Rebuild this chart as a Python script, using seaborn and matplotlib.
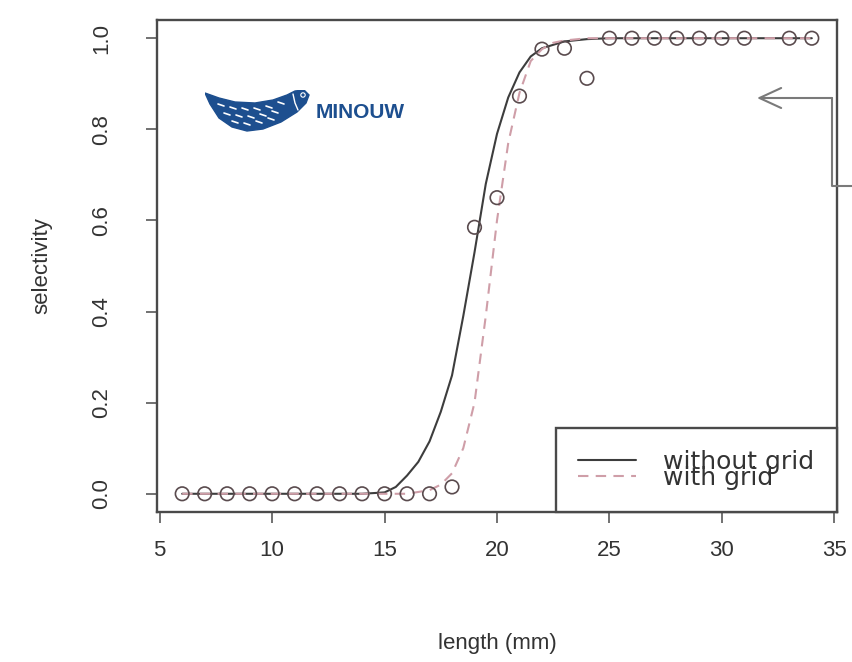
import numpy as np
import pandas as pd
import matplotlib
matplotlib.use("Agg")
import matplotlib.pyplot as plt
from matplotlib.lines import Line2D
from matplotlib.patches import Polygon
import seaborn as sns

# observed selectivity per length class
obs_length = [6, 7, 8, 9, 10, 11, 12, 13, 14, 15, 16, 17, 18, 19, 20, 21, 22, 23, 24,
              25, 26, 27, 28, 29, 30, 31, 33, 34]
obs_sel = [0.0, 0.0, 0.0, 0.0, 0.0, 0.0, 0.0, 0.0, 0.0, 0.0, 0.0, 0.0, 0.015, 0.585, 0.65,
           0.873, 0.976, 0.978, 0.912, 1.0, 1.0, 1.0, 1.0, 1.0, 1.0, 1.0, 1.0, 1.0]

# fitted curves
nogrid_length = [6, 10, 14, 15, 15.5, 16, 16.5, 17, 17.5, 18, 18.5, 19, 19.5, 20, 20.5,
                 21, 21.5, 22, 23, 24, 25, 34]
nogrid_sel = [0.0, 0.0, 0.0, 0.003, 0.015, 0.04, 0.07, 0.115, 0.18, 0.26, 0.39, 0.53, 0.68,
              0.79, 0.87, 0.925, 0.96, 0.978, 0.993, 0.998, 1.0, 1.0]

grid_length = [6, 10, 16, 17, 17.5, 18, 18.5, 19, 19.5, 20, 20.5, 21, 21.5, 22, 22.5, 23,
               24, 34]
grid_sel = [0.0, 0.0, 0.0, 0.008, 0.02, 0.045, 0.1, 0.2, 0.39, 0.6, 0.77, 0.88, 0.95, 0.976,
            0.99, 0.995, 1.0, 1.0]

series_names = ["without grid", "with grid"]
x_ticks = [5, 10, 15, 20, 25, 30, 35]
y_ticks = [0.0, 0.2, 0.4, 0.6, 0.8, 1.0]

curves = pd.concat([
    pd.DataFrame({"length": nogrid_length, "sel": nogrid_sel, "series": series_names[0]}),
    pd.DataFrame({"length": grid_length, "sel": grid_sel, "series": series_names[1]}),
])
obs = pd.DataFrame({"length": obs_length, "sel": obs_sel})

sns.set_theme(style="ticks")
plt.rcParams["font.family"] = ["Liberation Sans", "DejaVu Sans"]

line_col = "#3d3d3d"
dash_col = "#cf9ea8"
pt_col = "#5a4b4e"
frame_col = "#4a4a4a"
txt_col = "#333333"

fig = plt.figure(figsize=(8.52, 6.62), dpi=100)
ax = fig.add_axes([157 / 852, 1 - 512 / 662, 680 / 852, 492 / 662])

sns.lineplot(data=curves, x="length", y="sel", hue="series", style="series",
             palette={series_names[0]: line_col, series_names[1]: dash_col},
             dashes={series_names[0]: "", series_names[1]: (5, 3.5)},
             linewidth=1.5, sort=False, legend=False, ax=ax)
sns.scatterplot(data=obs, x="length", y="sel", marker="o", s=95,
                facecolor="none", edgecolor=pt_col, linewidth=1.2, legend=False,
                ax=ax, zorder=3)

ax.set_xlim(4.88, 35.12)
ax.set_ylim(-0.04, 1.04)
ax.set_xticks(x_ticks)
ax.set_xticklabels([str(t) for t in x_ticks], fontsize=16, color=txt_col)
ax.set_yticks(y_ticks)
ax.set_yticklabels([f"{t:.1f}" for t in y_ticks], fontsize=16, color=txt_col,
                   rotation=90, va="center")
ax.tick_params(axis="x", length=8, width=1.1, color=frame_col, pad=12)
ax.tick_params(axis="y", length=8, width=1.1, color=frame_col, pad=24)
ax.set_xlabel("length (mm)", fontsize=16, color=txt_col, labelpad=52)
ax.set_ylabel("selectivity", fontsize=16, color=txt_col, labelpad=28)
for sp in ax.spines.values():
    sp.set_visible(True)
    sp.set_color(frame_col)
    sp.set_linewidth(1.7)

handles = [Line2D([], [], color=line_col, lw=1.5),
           Line2D([], [], color=dash_col, lw=1.5, dashes=(5, 3.5))]
leg = ax.legend(handles, series_names, loc="lower right", borderaxespad=0,
                prop={"family": ["DejaVu Sans"], "size": 18},
                frameon=True, fancybox=False, framealpha=1,
                edgecolor=frame_col, handlelength=2.3, handletextpad=1.1,
                labelspacing=-0.34, borderpad=0.9)
leg.get_frame().set_linewidth(1.7)
for t in leg.get_texts():
    t.set_color(txt_col)

# MINOUW logo
logo = fig.add_axes([205 / 852, 1 - 134 / 662, 105 / 852, 44 / 662])
logo.set_xlim(0, 105)
logo.set_ylim(44, 0)
logo.axis("off")
fish = [(0, 3), (14, 8), (30, 12), (50, 13), (68, 10), (82, 5), (90, 1), (99, 0),
        (104, 5), (101, 13), (92, 22), (76, 32), (58, 39), (42, 41), (27, 37), (14, 28),
        (5, 14)]
logo.add_patch(Polygon(fish, closed=True, color="#1d4f8f"))
for fx, fy in [(16, 15), (28, 18), (40, 19), (52, 19), (64, 17), (76, 13),
               (22, 24), (34, 26), (46, 27), (58, 25), (70, 22),
               (30, 32), (42, 34), (54, 32), (66, 29)]:
    logo.plot([fx - 3, fx + 3], [fy - 1, fy + 1], color="white", lw=1.2)
logo.plot([88, 90, 93], [4, 13, 20], color="white", lw=1.0)
logo.scatter([98], [5], s=10, facecolor="none", edgecolor="white", linewidth=0.8)
fig.text(316 / 852, 1 - 112 / 662, "MINOUW", fontsize=15, fontweight="bold",
         color="#1d4f8f", va="center", ha="left")

# pointer arrow at the right edge
arrow_col = "#7a7a7a"
fig.add_artist(Line2D([852 / 852, 832 / 852, 832 / 852],
                      [1 - 186 / 662, 1 - 186 / 662, 1 - 98 / 662],
                      transform=fig.transFigure, color=arrow_col, lw=1.5))
ax.annotate("", xy=(757 / 852, 1 - 98 / 662), xycoords="figure fraction",
            xytext=(832 / 852, 1 - 98 / 662), textcoords="figure fraction",
            arrowprops=dict(arrowstyle="->,head_length=1.3,head_width=0.6",
                            color=arrow_col, lw=1.5, shrinkA=0, shrinkB=0))

fig.savefig("out.png", dpi=100)
